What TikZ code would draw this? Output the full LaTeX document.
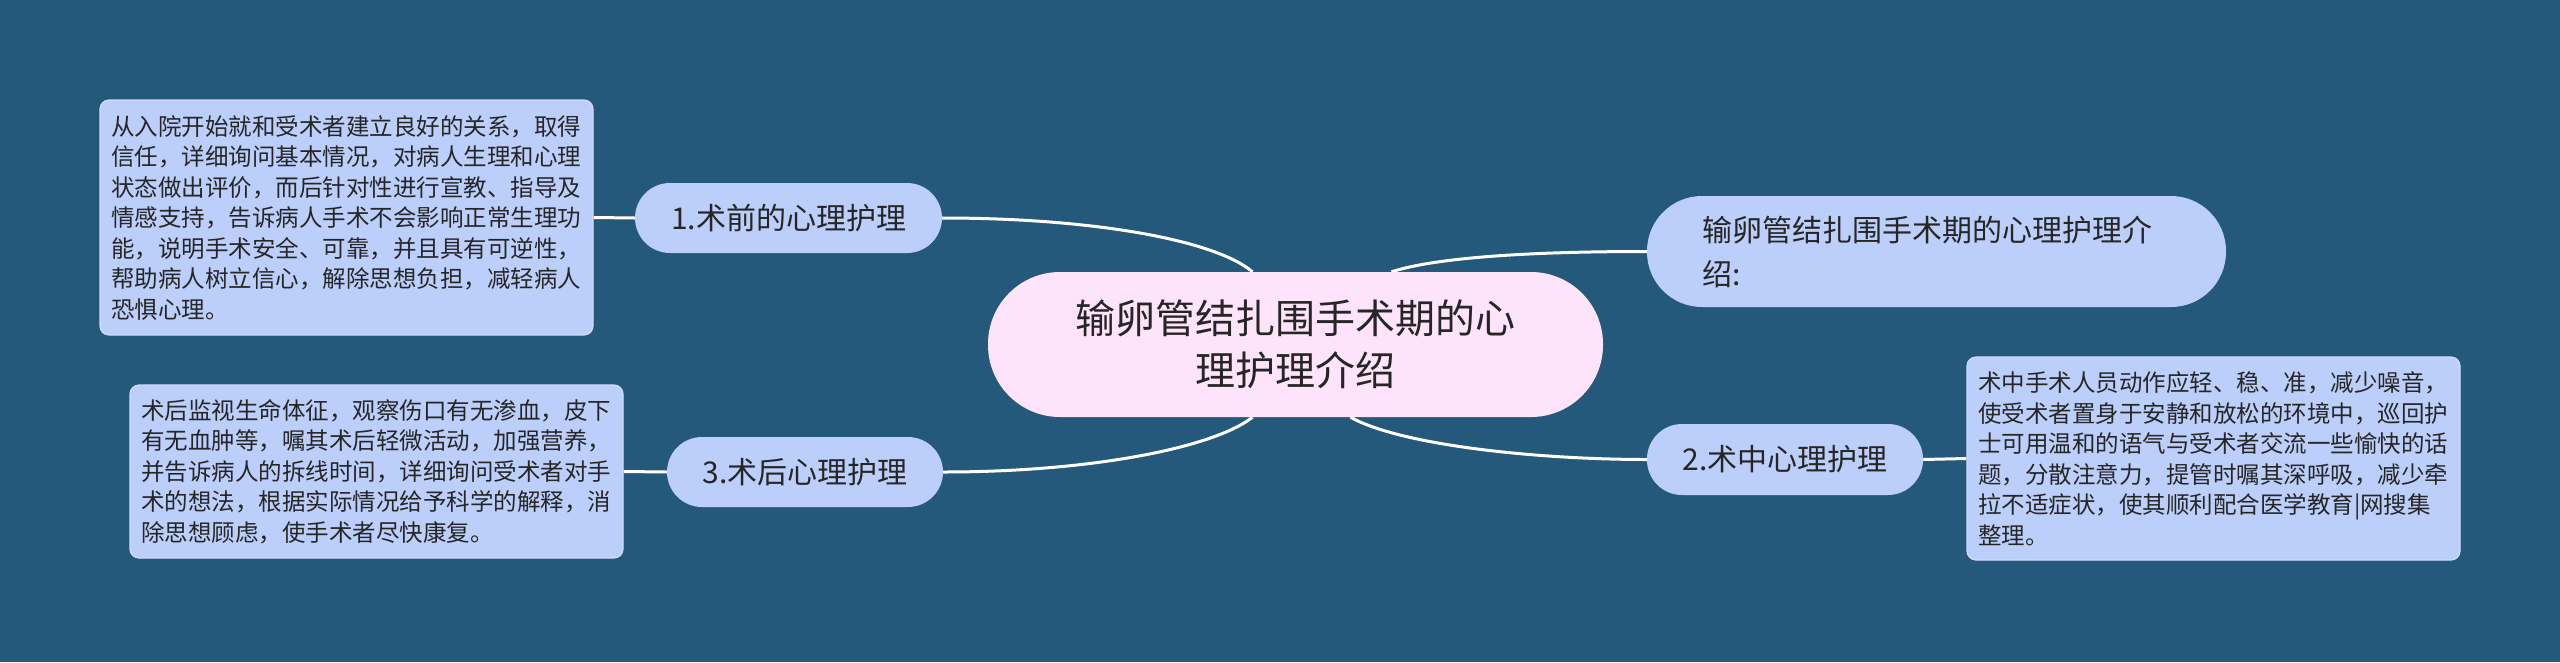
\documentclass[tikz,border=0pt]{standalone}
\usepackage{fontspec}
\setmainfont{Noto Sans CJK SC}
\usetikzlibrary{backgrounds}
\definecolor{bg}{RGB}{36,89,123}
\definecolor{nodefill}{RGB}{188,207,250}
\definecolor{centerfill}{RGB}{253,228,251}
\definecolor{txt}{RGB}{38,38,38}
\definecolor{boxedge}{RGB}{208,220,250}
\begin{document}
\begin{tikzpicture}[x=1pt,y=-1pt,
  topic/.style={fill=nodefill, rounded corners=35pt, inner sep=0pt, minimum height=70pt, text=txt, font=\fontsize{30}{36}\selectfont, align=center},
  detail/.style={fill=nodefill, draw=boxedge, line width=1.2pt, rounded corners=9pt, inner xsep=11pt, inner ysep=0pt, text width=471pt, text=txt, font=\fontsize{23.5}{30.5}\selectfont, align=left},
  conn/.style={draw=white, line width=3pt}
]
\useasboundingbox (0,0) rectangle (2560,662);
% central topic
\node[fill=centerfill, rounded corners=72pt, inner sep=0pt, minimum width=615pt, minimum height=145pt, text=txt, font=\fontsize{40}{52}\selectfont, align=center] (c) at (1295.5,344.5) {输卵管结扎围手术期的心\\理护理介绍};
% main topics
\node[topic, minimum width=307pt] (n1) at (788.5,218) {1.术前的心理护理};
\node[topic, minimum width=276pt] (n3) at (805,472) {3.术后心理护理};
\node[topic, minimum width=276pt, minimum height=71pt] (n2) at (1785,459.5) {2.术中心理护理};
\node[fill=nodefill, rounded corners=55pt, inner xsep=55pt, inner ysep=0pt, text width=469pt, minimum height=111pt, text=txt, font=\fontsize{30}{44}\selectfont, align=left] (rt) at (1936.5,251.5) {输卵管结扎围手术期的心理护理介\\绍:};
% detail boxes
\node[detail, minimum height=235pt] (b1) at (346.5,217.5) {从入院开始就和受术者建立良好的关系，取得\\信任，详细询问基本情况，对病人生理和心理\\状态做出评价，而后针对性进行宣教、指导及\\情感支持，告诉病人手术不会影响正常生理功\\能，说明手术安全、可靠，并且具有可逆性，\\帮助病人树立信心，解除思想负担，减轻病人\\恐惧心理。};
\node[detail, minimum height=173pt] (b2) at (376.5,471.5) {术后监视生命体征，观察伤口有无渗血，皮下\\有无血肿等，嘱其术后轻微活动，加强营养，\\并告诉病人的拆线时间，详细询问受术者对手\\术的想法，根据实际情况给予科学的解释，消\\除思想顾虑，使手术者尽快康复。};
\node[detail, minimum height=203pt] (b3) at (2213.5,458.5) {术中手术人员动作应轻、稳、准，减少噪音，\\使受术者置身于安静和放松的环境中，巡回护\\士可用温和的语气与受术者交流一些愉快的话\\题，分散注意力，提管时嘱其深呼吸，减少牵\\拉不适症状，使其顺利配合医学教育|网搜集\\整理。};
\begin{scope}[on background layer]
  \fill[bg] (0,0) rectangle (2560,662);
  \draw[conn] ([xshift=-43pt]c.north) .. controls +(-38,-32) and +(150,0) .. (n1.east);
  \draw[conn] ([xshift=96pt]c.north) .. controls +(50,-16) and +(-100,0) .. (rt.west);
  \draw[conn] ([xshift=-43pt]c.south) .. controls +(-38,30) and +(150,0) .. (n3.east);
  \draw[conn] ([xshift=55pt]c.south) .. controls +(50,28) and +(-110,0) .. (n2.west);
  \draw[conn] (n1.west) -- (b1.east);
  \draw[conn] (n3.west) -- (b2.east);
  \draw[conn] (n2.east) -- (b3.west);
\end{scope}
\end{tikzpicture}
\end{document}
